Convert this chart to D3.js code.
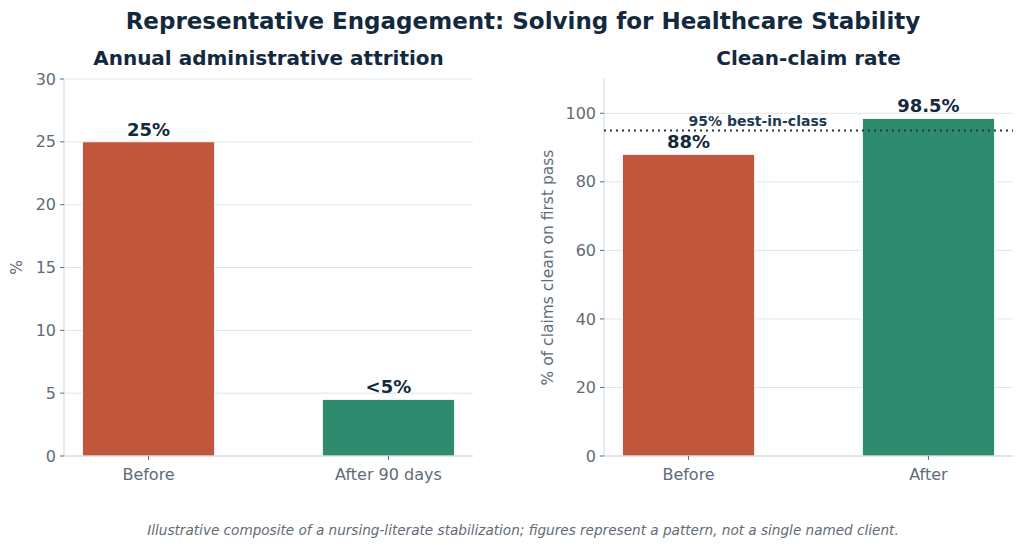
<!DOCTYPE html>
<html>
<head>
<meta charset="utf-8">
<script src="https://cdn.jsdelivr.net/npm/d3@7"></script>
<style>
  body { margin: 0; background: #fff; }
  text { font-family: "DejaVu Sans", sans-serif; }
</style>
</head>
<body>
<div id="chart"></div>
<script>
// data
const attritionCats = ["Before", "After 90 days"]
const attritionVals = [25, 4.5]
const attritionLabels = ["25%", "<5%"]
const attritionTicks = [0, 5, 10, 15, 20, 25, 30]

const claimCats = ["Before", "After"]
const claimVals = [88, 98.5]
const claimLabels = ["88%", "98.5%"]
const claimTicks = [0, 20, 40, 60, 80, 100]
const benchmark = 95
const benchmarkLabel = "95% best-in-class"

const barColors = ["#c0573c", "#2e8b6e"]
const navy = "#13293d"
const grey = "#5f6b76"
const gridCol = "#dce6ed"

const W = 1024, H = 549
const svg = d3.select("#chart").append("svg").attr("width", W).attr("height", H)

svg.append("text")
  .attr("x", 523).attr("y", 29)
  .attr("text-anchor", "middle")
  .attr("font-weight", "bold").attr("font-size", 23)
  .attr("fill", navy)
  .text("Representative Engagement: Solving for Healthcare Stability")

svg.append("text")
  .attr("x", 523).attr("y", 535)
  .attr("text-anchor", "middle")
  .attr("font-style", "italic").attr("font-size", 13.6)
  .attr("fill", grey)
  .text("Illustrative composite of a nursing-literate stabilization; figures represent a pattern, not a single named client.")

let drawPanel = function(opt) {
  const top = 79, bottom = 456
  const g = svg.append("g")

  const x = d3.scaleLinear().domain([-0.3525, 1.3525]).range([opt.left, opt.right])
  const y = d3.scaleLinear().domain([0, opt.ymax]).range([bottom, top])
  const bw = x(0.55) - x(0)

  // grid
  g.selectAll(".grid")
    .data(opt.ticks)
    .enter().append("line")
    .attr("x1", opt.left).attr("x2", opt.right)
    .attr("y1", d => y(d)).attr("y2", d => y(d))
    .attr("stroke", gridCol).attr("stroke-width", 1)

  // bars
  g.selectAll(".bar")
    .data(opt.vals)
    .enter().append("rect")
    .attr("x", (d, i) => x(i) - bw / 2)
    .attr("y", d => y(d))
    .attr("width", bw)
    .attr("height", d => bottom - y(d))
    .attr("fill", (d, i) => barColors[i])
    .attr("stroke", "#fff").attr("stroke-width", 0.8)

  // spines
  g.append("line").attr("x1", opt.left).attr("x2", opt.left).attr("y1", top).attr("y2", bottom)
    .attr("stroke", "#ccd9e2").attr("stroke-width", 1)
  g.append("line").attr("x1", opt.left).attr("x2", opt.right).attr("y1", bottom).attr("y2", bottom)
    .attr("stroke", "#ccd9e2").attr("stroke-width", 1)

  // y ticks
  const yt = g.selectAll(".yt").data(opt.ticks).enter().append("g")
    .attr("transform", d => "translate(" + opt.left + "," + y(d) + ")")
  yt.append("line").attr("x1", -4).attr("x2", 0).attr("stroke", grey)
  yt.append("text").attr("x", -8).attr("dy", "0.35em")
    .attr("text-anchor", "end").attr("font-size", 16).attr("fill", grey)
    .text(d => d)

  // x ticks
  const xt = g.selectAll(".xt").data(opt.cats).enter().append("g")
    .attr("transform", (d, i) => "translate(" + x(i) + "," + bottom + ")")
  xt.append("line").attr("y1", 0).attr("y2", 4).attr("stroke", grey)
  xt.append("text").attr("y", 24)
    .attr("text-anchor", "middle").attr("font-size", 16).attr("fill", grey)
    .text(d => d)

  // value labels
  g.selectAll(".lab").data(opt.vals).enter().append("text")
    .attr("x", (d, i) => x(i))
    .attr("y", d => y(d) - 6)
    .attr("text-anchor", "middle")
    .attr("font-weight", "bold").attr("font-size", 18)
    .attr("fill", navy)
    .text((d, i) => opt.labels[i])

  // subtitle
  g.append("text")
    .attr("x", (opt.left + opt.right) / 2).attr("y", 65)
    .attr("text-anchor", "middle")
    .attr("font-weight", "bold").attr("font-size", 20)
    .attr("fill", navy)
    .text(opt.title)

  // y label
  g.append("text")
    .attr("transform", "translate(" + (opt.left - opt.ylabOff) + "," + ((top + bottom) / 2) + ") rotate(-90)")
    .attr("text-anchor", "middle").attr("font-size", 15.5).attr("fill", grey)
    .text(opt.ylabel)

  return { g, x, y }
}

drawPanel({
  left: 64, right: 473, ymax: 30,
  cats: attritionCats, vals: attritionVals, labels: attritionLabels, ticks: attritionTicks,
  title: "Annual administrative attrition", ylabel: "%", ylabOff: 42
})

const p2 = drawPanel({
  left: 604, right: 1013, ymax: 110,
  cats: claimCats, vals: claimVals, labels: claimLabels, ticks: claimTicks,
  title: "Clean-claim rate", ylabel: "% of claims clean on first pass", ylabOff: 51
})

// benchmark line
p2.g.append("line")
  .attr("x1", 604).attr("x2", 1013)
  .attr("y1", p2.y(benchmark)).attr("y2", p2.y(benchmark))
  .attr("stroke", "#1e3a50").attr("stroke-width", 2)
  .attr("stroke-dasharray", "2,4")
p2.g.append("text")
  .attr("x", p2.x(0)).attr("y", p2.y(benchmark) - 4)
  .attr("text-anchor", "start")
  .attr("font-weight", "bold").attr("font-size", 14)
  .attr("fill", "#1e3a50")
  .text(benchmarkLabel)
</script>
</body>
</html>
